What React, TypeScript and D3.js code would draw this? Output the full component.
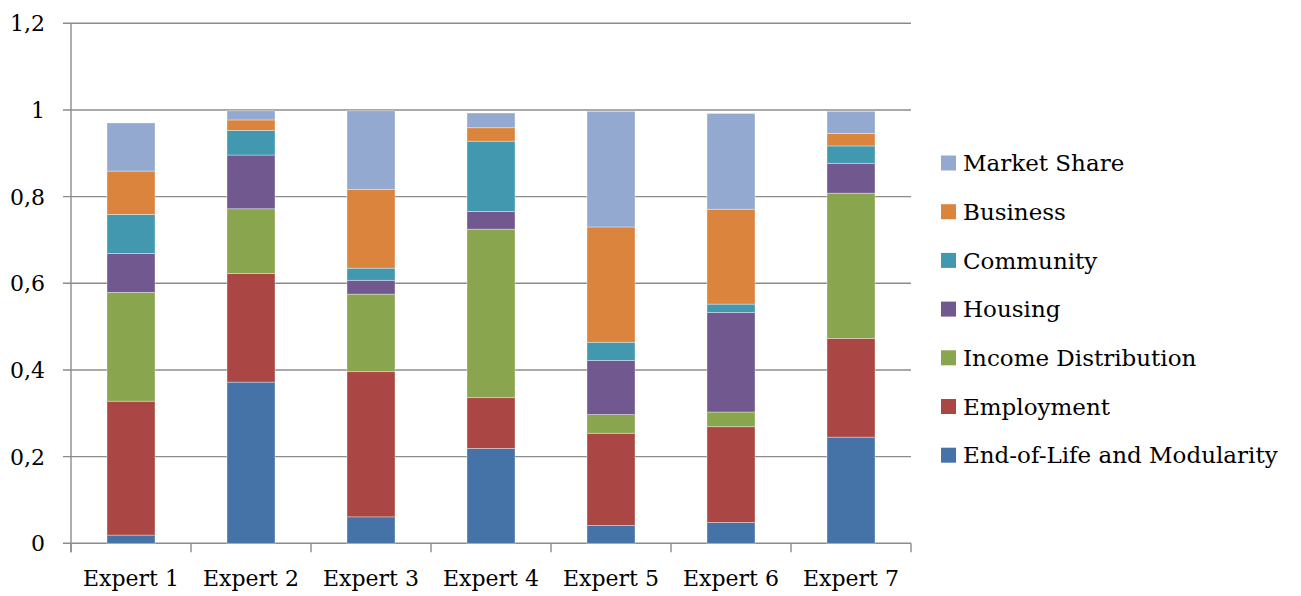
import React from "react";
import * as d3 from "d3";

const categories = ["Expert 1", "Expert 2", "Expert 3", "Expert 4", "Expert 5", "Expert 6", "Expert 7"];
const seriesNames = ["End-of-Life and Modularity", "Employment", "Income Distribution", "Housing", "Community", "Business", "Market Share"];
const seriesColors = ["#4572A7", "#AA4643", "#89A54E", "#71588F", "#4198AF", "#DB843D", "#93A9CF"];

const endOfLife = [0.019, 0.372, 0.061, 0.219, 0.041, 0.048, 0.245];
const employment = [0.309, 0.251, 0.335, 0.117, 0.213, 0.221, 0.228];
const incomeDistribution = [0.251, 0.149, 0.179, 0.389, 0.043, 0.034, 0.335];
const housing = [0.090, 0.124, 0.032, 0.041, 0.125, 0.230, 0.069];
const community = [0.090, 0.057, 0.028, 0.162, 0.042, 0.019, 0.040];
const business = [0.100, 0.024, 0.182, 0.031, 0.266, 0.219, 0.029];
const marketShare = [0.111, 0.021, 0.181, 0.034, 0.267, 0.221, 0.051];

const yTicks = [0, 0.2, 0.4, 0.6, 0.8, 1, 1.2];
const yTickLabels = ["0", "0,2", "0,4", "0,6", "0,8", "1", "1,2"];

const seriesValues = [endOfLife, employment, incomeDistribution, housing, community, business, marketShare];

export default function App() {
  const width = 1301;
  const height = 596;
  const left = 71;
  const right = 911;
  const top = 23.3;
  const bottom = 543.3;
  const font = "'DejaVu Serif', serif";
  const fs = 22;
  const legendFs = 23;

  const x = d3.scaleBand<string>().domain(categories).range([left, right]).paddingInner(0.6).paddingOuter(0.3);
  const y = d3.scaleLinear().domain([0, 1.2]).range([bottom, top]);

  const rows = categories.map((c, i) => {
    const r: any = { cat: c };
    seriesNames.forEach((s, j) => (r[s] = seriesValues[j][i]));
    return r;
  });
  const stacked = d3.stack<any>().keys(seriesNames)(rows);

  const step = x.step();
  const boundaries = d3.range(categories.length + 1).map((i) => left + i * step);

  const legendOrder = [...seriesNames].reverse();

  return (
    <svg width={width} height={height} style={{ position: "absolute", left: 0, top: 0, background: "#fff" }}>
      {yTicks.map((t, i) => (
        <g key={"g" + i}>
          <line x1={left - 8} x2={right} y1={y(t)} y2={y(t)} stroke="#8c8c8c" strokeWidth={1.4} />
          <text x={45} y={y(t)} dy="0.37em" textAnchor="end" fontFamily={font} fontSize={fs} fill="#000">
            {yTickLabels[i]}
          </text>
        </g>
      ))}
      <line x1={left} x2={left} y1={top} y2={bottom + 9} stroke="#8c8c8c" strokeWidth={1.4} />
      {boundaries.map((bx, i) => (
        <line key={"b" + i} x1={bx} x2={bx} y1={bottom} y2={bottom + 9} stroke="#8c8c8c" strokeWidth={1.4} />
      ))}
      {stacked.map((layer, j) => (
        <g key={"s" + j} fill={seriesColors[j]}>
          {layer.map((d, i) => (
            <rect
              key={i}
              x={x(categories[i])}
              width={x.bandwidth()}
              y={y(d[1])}
              height={y(d[0]) - y(d[1])}
              stroke="#ffffff"
              strokeOpacity={0.5}
              strokeWidth={0.7}
            />
          ))}
        </g>
      ))}
      {categories.map((c) => (
        <text key={c} x={(x(c) as number) + x.bandwidth() / 2} y={586} textAnchor="middle" fontFamily={font} fontSize={fs} fill="#000">
          {c}
        </text>
      ))}
      {legendOrder.map((s, i) => {
        const cy = 163 + i * 48.7;
        const j = seriesNames.indexOf(s);
        return (
          <g key={s}>
            <rect x={941} y={cy - 7.5} width={15} height={15} fill={seriesColors[j]} />
            <text x={963} y={cy} dy="0.36em" fontFamily={font} fontSize={legendFs} fill="#000">
              {s}
            </text>
          </g>
        );
      })}
    </svg>
  );
}
